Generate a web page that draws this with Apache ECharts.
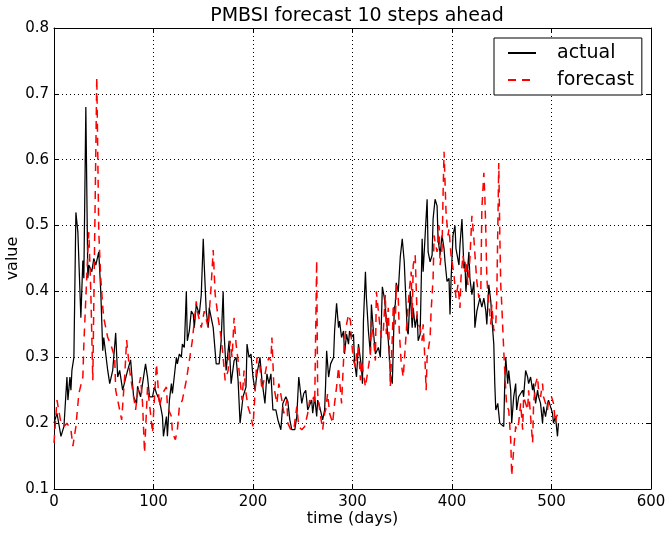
<!DOCTYPE html>
<html><head><meta charset="utf-8">
<script src="https://cdn.jsdelivr.net/npm/echarts@6/dist/echarts.min.js"></script>
<style>html,body{margin:0;padding:0;background:#fff}#c{width:667px;height:534px}</style>
</head><body><div id="c"></div>
<script>
const titleText = 'PMBSI forecast 10 steps ahead';
const xTickLabels = [0, 100, 200, 300, 400, 500, 600];
const yTickLabels = [0.1, 0.2, 0.3, 0.4, 0.5, 0.6, 0.7, 0.8];

const actualDays = [0,3,7,10,12,13,14,16,17,18,20,22,24,27,29,30,32,34,35,38,40,42,45,47,49,50,54,56,59,62,64,66,69,74,77,80,83,84,87,91,92,94,96,99,101,103,106,109,110,113,114,116,118,119,123,124,126,128,129,131,133,134,136,138,140,141,143,146,148,150,151,153,155,156,160,163,166,168,170,171,173,175,176,178,181,183,185,187,190,193,194,196,198,200,202,204,207,209,212,214,216,218,220,223,225,228,230,233,235,237,239,242,244,246,249,251,253,255,257,259,260,262,264,265,267,270,272,273,274,276,278,281,282,284,286,287,289,291,292,294,296,297,299,301,302,304,306,309,310,311,313,314,316,318,319,321,323,326,328,330,332,333,336,338,340,341,342,343,344,346,348,350,352,353,355,356,358,360,361,363,365,366,368,370,371,373,375,376,378,380,381,383,385,386,388,390,392,393,395,397,398,399,401,403,404,407,408,410,412,413,414,417,418,420,422,423,425,427,428,430,432,434,435,437,439,440,442,443,444,446,448,450,452,453,454,456,457,459,460,462,464,465,467,469,471,472,474,476,477,479,481,482,484,486,487,489,491,492,494,496,497,499,501,502,504,506,507];
const actualValues = [0.20,0.215,0.18,0.195,0.195,0.27,0.235,0.27,0.25,0.28,0.30,0.52,0.49,0.36,0.447,0.42,0.68,0.42,0.44,0.43,0.45,0.44,0.46,0.40,0.31,0.33,0.28,0.26,0.28,0.337,0.27,0.28,0.25,0.28,0.296,0.24,0.23,0.256,0.24,0.28,0.29,0.27,0.24,0.24,0.255,0.245,0.235,0.21,0.18,0.21,0.18,0.235,0.26,0.245,0.30,0.29,0.305,0.30,0.32,0.315,0.40,0.325,0.34,0.37,0.365,0.345,0.38,0.365,0.395,0.48,0.44,0.37,0.345,0.375,0.345,0.29,0.29,0.325,0.40,0.335,0.28,0.28,0.325,0.26,0.295,0.30,0.265,0.20,0.24,0.255,0.32,0.30,0.305,0.27,0.25,0.275,0.30,0.265,0.23,0.275,0.26,0.275,0.22,0.22,0.205,0.19,0.23,0.24,0.233,0.205,0.19,0.19,0.21,0.27,0.23,0.245,0.25,0.22,0.22,0.235,0.215,0.24,0.21,0.235,0.225,0.205,0.22,0.26,0.31,0.27,0.29,0.30,0.34,0.382,0.345,0.355,0.33,0.34,0.305,0.335,0.32,0.34,0.33,0.335,0.295,0.27,0.32,0.285,0.26,0.355,0.43,0.39,0.34,0.305,0.38,0.34,0.305,0.315,0.30,0.407,0.39,0.375,0.325,0.275,0.26,0.315,0.375,0.38,0.413,0.40,0.452,0.48,0.445,0.41,0.34,0.335,0.40,0.345,0.375,0.345,0.365,0.325,0.335,0.48,0.43,0.485,0.54,0.46,0.445,0.455,0.51,0.54,0.53,0.48,0.455,0.485,0.465,0.445,0.415,0.42,0.365,0.415,0.485,0.50,0.465,0.44,0.47,0.51,0.435,0.445,0.40,0.46,0.42,0.395,0.415,0.345,0.37,0.37,0.39,0.376,0.39,0.37,0.35,0.41,0.385,0.36,0.32,0.26,0.22,0.23,0.20,0.20,0.195,0.26,0.30,0.26,0.28,0.25,0.20,0.24,0.26,0.22,0.24,0.24,0.25,0.24,0.28,0.27,0.26,0.27,0.25,0.26,0.23,0.25,0.24,0.23,0.20,0.225,0.21,0.23,0.235,0.225,0.215,0.20,0.21,0.18,0.20];

const forecastDays = [0,3,7,10,13,17,19,22,25,29,30,34,35,37,39,43,45,47,49,50,54,56,57,61,62,66,68,71,73,76,79,82,84,87,89,91,94,97,99,101,103,106,109,113,114,118,119,122,124,126,129,133,136,139,141,143,144,148,151,155,158,160,162,165,166,168,170,172,175,177,179,181,183,185,187,189,191,193,195,197,200,202,204,207,209,211,214,216,218,219,221,224,226,229,231,234,235,238,241,244,246,249,252,255,257,259,261,262,264,265,267,270,272,273,275,277,280,282,284,286,287,289,291,292,294,296,298,299,301,303,304,306,308,309,311,313,315,318,319,321,323,324,327,329,331,333,334,336,338,340,341,343,344,346,347,349,351,353,355,357,359,360,361,363,365,366,368,370,371,373,374,375,378,379,381,382,383,385,387,388,390,391,392,394,396,397,399,401,402,404,406,408,409,411,413,414,416,418,420,422,424,425,427,429,430,432,433,434,435,437,439,440,442,444,445,447,448,449,450,452,454,455,457,459,460,462,464,465,467,469,471,472,474,476,477,479,481,482,484,486,487,489,491,492,494,496,497,500,502,504,505,507];
const forecastValues = [0.17,0.235,0.20,0.195,0.20,0.19,0.165,0.195,0.245,0.27,0.32,0.46,0.49,0.40,0.265,0.725,0.49,0.42,0.376,0.36,0.33,0.33,0.32,0.30,0.25,0.22,0.205,0.27,0.326,0.28,0.25,0.22,0.246,0.27,0.23,0.155,0.255,0.215,0.185,0.24,0.29,0.225,0.245,0.255,0.225,0.21,0.185,0.175,0.19,0.225,0.235,0.265,0.295,0.325,0.355,0.385,0.37,0.345,0.37,0.345,0.41,0.463,0.395,0.36,0.35,0.33,0.30,0.265,0.28,0.325,0.30,0.36,0.32,0.295,0.265,0.235,0.28,0.245,0.225,0.215,0.195,0.245,0.30,0.285,0.25,0.265,0.29,0.30,0.295,0.33,0.255,0.23,0.26,0.235,0.215,0.235,0.20,0.19,0.19,0.225,0.195,0.19,0.195,0.215,0.235,0.23,0.24,0.23,0.447,0.245,0.22,0.19,0.215,0.22,0.245,0.215,0.20,0.23,0.255,0.285,0.265,0.23,0.295,0.325,0.35,0.365,0.355,0.325,0.295,0.285,0.305,0.315,0.265,0.295,0.275,0.255,0.275,0.305,0.355,0.33,0.295,0.40,0.355,0.33,0.34,0.395,0.335,0.375,0.255,0.33,0.38,0.35,0.41,0.39,0.34,0.29,0.27,0.315,0.36,0.40,0.43,0.36,0.44,0.455,0.36,0.35,0.345,0.325,0.35,0.29,0.25,0.30,0.33,0.37,0.42,0.485,0.475,0.46,0.50,0.44,0.465,0.545,0.612,0.52,0.485,0.495,0.455,0.435,0.425,0.39,0.41,0.375,0.42,0.455,0.43,0.445,0.41,0.45,0.515,0.48,0.435,0.415,0.39,0.405,0.525,0.58,0.545,0.49,0.42,0.38,0.35,0.38,0.34,0.35,0.39,0.595,0.49,0.41,0.38,0.31,0.25,0.225,0.22,0.175,0.12,0.16,0.195,0.19,0.20,0.23,0.19,0.24,0.23,0.22,0.25,0.21,0.17,0.23,0.26,0.27,0.25,0.24,0.26,0.24,0.23,0.22,0.235,0.24,0.23,0.20,0.21,0.215];

const FONT = 'DejaVu Sans';
const pairs = (xs, ys) => xs.map((x, i) => [x, ys[i]]);

const xMin = xTickLabels[0], xMax = xTickLabels[xTickLabels.length - 1];
const xStep = xTickLabels[1] - xTickLabels[0];
const yMin = yTickLabels[0], yMax = yTickLabels[yTickLabels.length - 1];
const yStep = 0.1;

const dotted = { color: '#000', width: 1, type: [1, 3] };
const tick = { show: true, inside: true, length: 5, lineStyle: { color: '#000', width: 1 } };
const line = { show: true, onZero: false, lineStyle: { color: '#000', width: 1 } };
const lbl = { color: '#000', fontFamily: FONT, fontSize: 15 };

const chart = echarts.init(document.getElementById('c'), null, { renderer: 'canvas' });
chart.setOption({
  animation: false,
  backgroundColor: '#fff',
  title: {
    text: titleText, left: 352, top: 2, textAlign: 'center',
    textStyle: { color: '#000', fontFamily: FONT, fontSize: 19, fontWeight: 'normal' }
  },
  grid: { left: 54, right: 16, top: 28, bottom: 45, containLabel: false, outerBoundsMode: 'none' },
  legend: {
    orient: 'vertical', left: 494, top: 38,
    backgroundColor: '#fff', borderColor: '#000', borderWidth: 1, borderRadius: 0,
    padding: [5, 8, 5, 13], itemWidth: 28, itemHeight: 20, itemGap: 7,
    itemStyle: { opacity: 0 },
    textStyle: { color: '#000', fontFamily: FONT, fontSize: 19, lineHeight: 20, padding: [0, 0, 0, 16] },
    data: ['actual', 'forecast']
  },
  xAxis: [
    { type: 'value', position: 'bottom', min: xMin, max: xMax, interval: xStep,
      axisLine: line, axisTick: tick,
      axisLabel: Object.assign({ margin: 6 }, lbl),
      splitLine: { show: true, lineStyle: dotted },
      name: 'time (days)', nameLocation: 'middle', nameGap: 22, nameMoveOverlap: false,
      nameTextStyle: { color: '#000', fontFamily: FONT, fontSize: 16 } },
    { type: 'value', position: 'top', min: xMin, max: xMax, interval: xStep,
      axisLine: line, axisTick: tick, axisLabel: { show: false }, splitLine: { show: false } }
  ],
  yAxis: [
    { type: 'value', position: 'left', min: yMin, max: yMax, interval: yStep,
      axisLine: line, axisTick: tick,
      axisLabel: Object.assign({ margin: 5, formatter: v => (+v).toFixed(1) }, lbl),
      splitLine: { show: true, lineStyle: dotted },
      name: 'value', nameLocation: 'middle', nameGap: 33, nameMoveOverlap: false,
      nameTextStyle: { color: '#000', fontFamily: FONT, fontSize: 16 } },
    { type: 'value', position: 'right', min: yMin, max: yMax, interval: yStep,
      axisLine: line, axisTick: tick, axisLabel: { show: false }, splitLine: { show: false } }
  ],
  series: [
    { name: 'actual', type: 'line', xAxisIndex: 0, yAxisIndex: 0, data: pairs(actualDays, actualValues),
      symbol: 'none', showSymbol: false, lineStyle: { color: '#000', width: 1.25 }, itemStyle: { color: '#000' }, z: 3 },
    { name: 'forecast', type: 'line', xAxisIndex: 0, yAxisIndex: 0, data: pairs(forecastDays, forecastValues),
      symbol: 'none', showSymbol: false, lineStyle: { color: '#ff0000', width: 1.5, type: [8, 6] }, itemStyle: { color: '#ff0000' }, z: 4 }
  ]
});
</script>
</body></html>
